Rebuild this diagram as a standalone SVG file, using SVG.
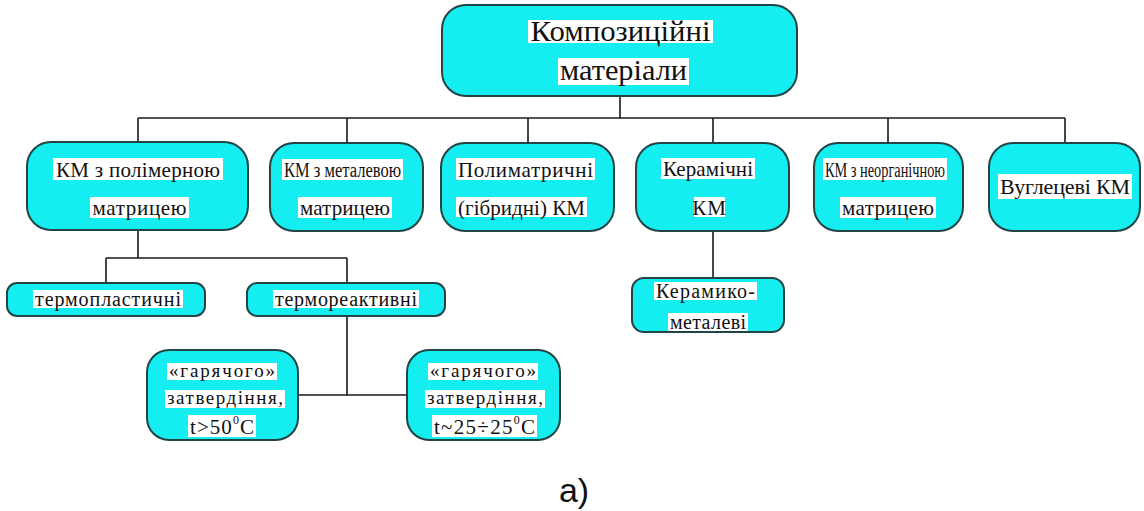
<svg xmlns="http://www.w3.org/2000/svg" width="1144" height="511" viewBox="0 0 1144 511">
  <style>
    .box { fill: #14eef0; stroke: #234444; stroke-width: 2; }
    .hl { fill: #ffffff; }
    text { font-family: "Liberation Serif", "DejaVu Serif", "Times New Roman", serif; fill: #111; text-anchor: middle; }
    .conn { fill: none; stroke: #1a1a1a; stroke-width: 1.6; }
    .cap { font-family: "Liberation Sans", "DejaVu Sans", Arial, sans-serif; font-size: 34px; }
  </style>

  <!-- connectors -->
  <g id="connectors">
    <path class="conn" d="M620 96 V118 M138 118 H1065 M138 118 V142 M347 118 V143 M528 118 V143 M713 118 V143 M888 118 V143 M1065 118 V143"/>
    <path class="conn" d="M138 230 V258 M106 258 H347 M106 258 V283 M347 258 V283"/>
    <path class="conn" d="M347 316 V395 M298 395 H407"/>
    <path class="conn" d="M713 231 V278"/>
  </g>

  <!-- root -->
  <g id="n-root">
    <rect class="box" x="442" y="5" width="355" height="91" rx="24"/>
    <rect class="hl" x="528" y="20" width="185" height="23"/>
    <rect class="hl" x="558" y="58" width="131" height="27"/>
    <text x="620.5" y="41" font-size="29" textLength="180" lengthAdjust="spacingAndGlyphs">Композиційні</text>
    <text x="623.5" y="80" font-size="29" textLength="127" lengthAdjust="spacingAndGlyphs">матеріали</text>
  </g>

  <!-- second level -->
  <g id="n-polymer">
    <rect class="box" x="27" y="142" width="221" height="88" rx="24"/>
    <rect class="hl" x="53" y="158" width="170" height="22"/>
    <rect class="hl" x="90" y="197" width="99" height="21"/>
    <text x="138" y="177" font-size="21" textLength="164" lengthAdjust="spacing">КМ з полімерною</text>
    <text x="139.5" y="215" font-size="21" textLength="94" lengthAdjust="spacing">матрицею</text>
  </g>

  <g id="n-metal">
    <rect class="box" x="270" y="143" width="153" height="88" rx="24"/>
    <rect class="hl" x="282" y="159" width="121" height="21"/>
    <rect class="hl" x="298" y="197" width="94" height="21"/>
    <text x="342.5" y="177" font-size="20" textLength="117" lengthAdjust="spacingAndGlyphs">КМ з металевою</text>
    <text x="345" y="215" font-size="21" textLength="90" lengthAdjust="spacing">матрицею</text>
  </g>

  <g id="n-polymatrix">
    <rect class="box" x="441" y="143" width="173" height="88" rx="24"/>
    <rect class="hl" x="456" y="158" width="139" height="22"/>
    <rect class="hl" x="456" y="197" width="131" height="20"/>
    <text x="525.5" y="177" font-size="21" textLength="135" lengthAdjust="spacing">Полиматричні</text>
    <text x="521.5" y="215" font-size="21" textLength="127" lengthAdjust="spacing">(гібридні) КМ</text>
  </g>

  <g id="n-ceramic">
    <rect class="box" x="636" y="143" width="153" height="88" rx="24"/>
    <rect class="hl" x="661" y="158" width="94" height="21"/>
    <rect class="hl" x="694" y="197" width="31" height="20"/>
    <text x="708" y="176" font-size="21" textLength="90" lengthAdjust="spacing">Керамічні</text>
    <text x="709.5" y="215" font-size="21" letter-spacing="1">КМ</text>
  </g>

  <g id="n-inorganic">
    <rect class="box" x="814" y="143" width="149" height="88" rx="24"/>
    <rect class="hl" x="823" y="158" width="124" height="22"/>
    <rect class="hl" x="840" y="197" width="96" height="21"/>
    <text x="885" y="177" font-size="20" textLength="120" lengthAdjust="spacingAndGlyphs">КМ з неорганічною</text>
    <text x="888" y="215" font-size="21" textLength="92" lengthAdjust="spacing">матрицею</text>
  </g>

  <g id="n-carbon">
    <rect class="box" x="989" y="143" width="151" height="88" rx="24"/>
    <rect class="hl" x="998" y="174" width="134" height="25"/>
    <text x="1065" y="194" font-size="22" textLength="130" lengthAdjust="spacing">Вуглецеві КМ</text>
  </g>

  <!-- third level -->
  <g id="n-thermoplastic">
    <rect class="box" x="7" y="283" width="198" height="33" rx="10"/>
    <rect class="hl" x="33" y="290" width="150" height="18"/>
    <text x="108" y="306" font-size="20" textLength="146" lengthAdjust="spacing">термопластичні</text>
  </g>

  <g id="n-thermoset">
    <rect class="box" x="247" y="283" width="198" height="33" rx="10"/>
    <rect class="hl" x="273" y="290" width="146" height="18"/>
    <text x="346" y="306" font-size="20" textLength="142" lengthAdjust="spacing">термореактивні</text>
  </g>

  <g id="n-cermet">
    <rect class="box" x="632" y="278" width="152" height="54" rx="12"/>
    <rect class="hl" x="654" y="282" width="103" height="18"/>
    <rect class="hl" x="668" y="313" width="80" height="18"/>
    <text x="705.5" y="298" font-size="20" textLength="99" lengthAdjust="spacing">Керамико-</text>
    <text x="708" y="329" font-size="20" textLength="76" lengthAdjust="spacing">металеві</text>
  </g>

  <!-- curing types -->
  <g id="n-hot-cure">
    <rect class="box" x="147" y="350" width="151" height="90" rx="22"/>
    <rect class="hl" x="167" y="363" width="110" height="17"/>
    <rect class="hl" x="165" y="390" width="120" height="18"/>
    <rect class="hl" x="188" y="415" width="68" height="22"/>
    <text x="222" y="377" font-size="19" textLength="106" lengthAdjust="spacing">«гарячого»</text>
    <text x="225" y="404" font-size="19" textLength="116" lengthAdjust="spacing">затвердіння,</text>
    <text x="222" y="434" font-size="21" textLength="64" lengthAdjust="spacing">t&gt;50<tspan font-size="12" dy="-10">0</tspan><tspan dy="10">C</tspan></text>
  </g>

  <g id="n-cold-cure">
    <rect class="box" x="407" y="350" width="153" height="90" rx="22"/>
    <rect class="hl" x="428" y="363" width="110" height="17"/>
    <rect class="hl" x="425" y="390" width="120" height="18"/>
    <rect class="hl" x="432" y="415" width="105" height="22"/>
    <text x="483" y="377" font-size="19" textLength="106" lengthAdjust="spacing">«гарячого»</text>
    <text x="485" y="404" font-size="19" textLength="116" lengthAdjust="spacing">затвердіння,</text>
    <text x="484.5" y="434" font-size="21" textLength="101" lengthAdjust="spacing">t~25÷25<tspan font-size="12" dy="-10">0</tspan><tspan dy="10">C</tspan></text>
  </g>

  <!-- caption -->
  <text class="cap" x="574" y="502">а)</text>
</svg>
